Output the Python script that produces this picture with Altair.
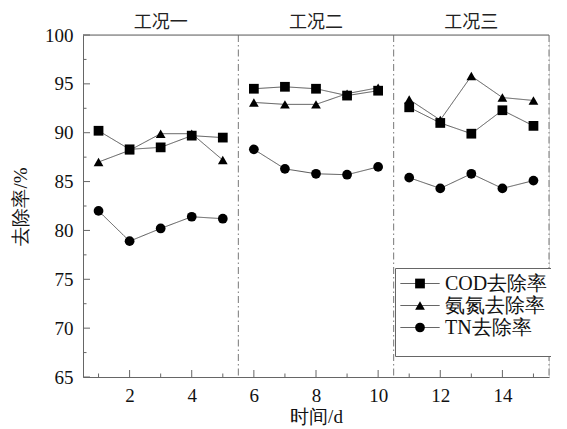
import altair as alt
import pandas as pd

# ---- data ----
days = list(range(1, 16))
phases = ["工况一"] * 5 + ["工况二"] * 5 + ["工况三"] * 5
cod = [90.2, 88.3, 88.5, 89.7, 89.5, 94.5, 94.7, 94.5, 93.8, 94.3, 92.6, 91.0, 89.9, 92.3, 90.7]
nh3 = [87.0, 88.2, 89.9, 89.9, 87.2, 93.1, 92.9, 92.9, 94.0, 94.6, 93.4, 91.3, 95.8, 93.6, 93.3]
tn = [82.0, 78.9, 80.2, 81.4, 81.2, 88.3, 86.3, 85.8, 85.7, 86.5, 85.4, 84.3, 85.8, 84.3, 85.1]
series_names = ["COD去除率", "氨氮去除率", "TN去除率"]
series_shapes = ["square", "triangle-up", "circle"]

phase_names = ["工况一", "工况二", "工况三"]
phase_centers = [3, 8, 13]
separators = [5.5, 10.5, 15.5]

y_major = [65, 70, 75, 80, 85, 90, 95, 100]
y_minor = [67.5, 72.5, 77.5, 82.5, 87.5, 92.5, 97.5]
x_major = [2, 4, 6, 8, 10, 12, 14]
x_minor = [1, 3, 5, 7, 9, 11, 13, 15]

# the line legend uses its own key (name + space) so it is not merged with the marker legend
line_keys = [n + " " for n in series_names]

rows = []
for name, lkey, vals in zip(series_names, line_keys, [cod, nh3, tn]):
    for d, p, v in zip(days, phases, vals):
        rows.append({"day": d, "phase": p, "series": name, "key": lkey, "value": v})
df = pd.DataFrame(rows)

SERIF = "Liberation Serif"
CJK = "Noto Sans CJK SC"
AX = "#666666"
H = 342

xs = alt.Scale(domain=[0.5, 15.5], nice=False, zero=False)
ys = alt.Scale(domain=[65, 100], nice=False, zero=False)

x_enc = alt.X("day:Q", scale=xs,
              axis=alt.Axis(values=x_major, title="时间/d", ticks=False, tickSize=0,
                            grid=False, domainColor=AX, labelPadding=9,
                            labelFont=SERIF, labelFontSize=19, labelColor="#111",
                            titleFont=SERIF, titleFontSize=19, titleFontWeight="normal",
                            titleColor="#111", titlePadding=2))
y_enc = alt.Y("value:Q", scale=ys,
              axis=alt.Axis(values=y_major, title="去除率/%", ticks=False, tickSize=0,
                            grid=False, domainColor=AX, labelPadding=10,
                            labelFont=SERIF, labelFontSize=19, labelColor="#111",
                            titleFont=SERIF, titleFontSize=19, titleFontWeight="normal",
                            titleColor="#111", titlePadding=14))

LEG_X, LEG_Y = 312, 233
common_leg = dict(orient="none", legendX=LEG_X, legendY=LEG_Y, direction="vertical",
                  title=" ", titleOrient="bottom", titleFontSize=10, titlePadding=3,
                  padding=5, rowPadding=1, clipHeight=21)

base = alt.Chart(df)

# connecting lines; their legend draws the short line and the label of each key
lines = base.mark_line(color="#444444", strokeWidth=0.9).encode(
    x=x_enc, y=y_enc, detail=["series:N", "phase:N"],
    strokeDash=alt.StrokeDash(
        "key:N",
        scale=alt.Scale(domain=line_keys, range=[[1, 0], [1, 0], [1, 0]]),
        legend=alt.Legend(**common_leg, symbolType="stroke", symbolSize=1521,
                          symbolStrokeWidth=1, symbolStrokeColor="#333333",
                          strokeColor=AX, fillColor="white",
                          labelFont=SERIF, labelFontSize=20, labelColor="#111",
                          labelOffset=5, zindex=0),
    ),
)

# markers; their legend draws the marker centred on the short line
points = base.mark_point(filled=True, color="black", opacity=1, size=95).encode(
    x="day:Q", y="value:Q",
    shape=alt.Shape(
        "series:N",
        scale=alt.Scale(domain=series_names, range=series_shapes),
        legend=alt.Legend(**common_leg, symbolSize=95, symbolOffset=10,
                          symbolFillColor="black", symbolOpacity=1,
                          labelExpr="''", labelFontSize=20, labelOffset=0,
                          zindex=1),
    ),
)

sep_df = pd.DataFrame({"x": separators})
seps = alt.Chart(sep_df).mark_rule(color="#777777", strokeWidth=1,
                                   strokeDash=[7, 3, 1.5, 3]).encode(x=alt.X("x:Q", scale=xs))

top = alt.Chart(pd.DataFrame({"y": [100]})).mark_rule(color=AX, strokeWidth=1).encode(
    y=alt.Y("y:Q", scale=ys))

phase_df = pd.DataFrame({"x": phase_centers, "label": phase_names})
phase_text = alt.Chart(phase_df).mark_text(font=CJK, fontSize=18, color="#222",
                                           baseline="middle").encode(
    x=alt.X("x:Q", scale=xs), y=alt.value(-12), text="label:N"
)

# inward ticks
ymaj = alt.Chart(pd.DataFrame({"y": y_major})).mark_rule(color=AX).encode(
    y=alt.Y("y:Q", scale=ys), x=alt.value(0), x2=alt.value(7))
ymin = alt.Chart(pd.DataFrame({"y": y_minor})).mark_rule(color=AX).encode(
    y=alt.Y("y:Q", scale=ys), x=alt.value(0), x2=alt.value(3.5))
xmaj = alt.Chart(pd.DataFrame({"x": x_major})).mark_rule(color=AX).encode(
    x=alt.X("x:Q", scale=xs), y=alt.value(H), y2=alt.value(H - 7))
xmin = alt.Chart(pd.DataFrame({"x": x_minor})).mark_rule(color=AX).encode(
    x=alt.X("x:Q", scale=xs), y=alt.value(H), y2=alt.value(H - 3.5))

chart = alt.layer(
    seps, top, ymaj, ymin, xmaj, xmin, lines, points, phase_text
).properties(
    width=466, height=H,
    autosize=alt.AutoSizeParams(type="none"),
    padding={"left": 75, "top": 27, "right": 2, "bottom": 52},
).configure_view(stroke=None).configure(background="white")

chart.save("out.html", embed_options={"renderer": "svg", "actions": False})
